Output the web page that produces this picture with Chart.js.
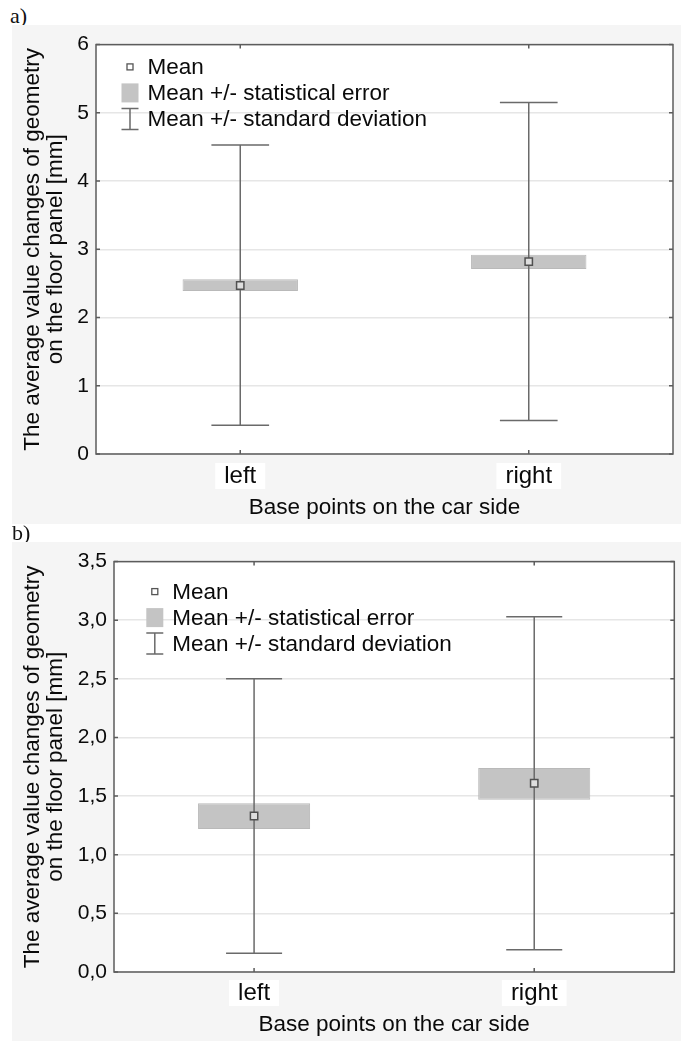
<!DOCTYPE html>
<html>
<head>
<meta charset="utf-8">
<script src="https://cdn.jsdelivr.net/npm/chart.js@4.4.1/dist/chart.umd.min.js"></script>
<style>
  body { margin: 0; background: #fff; width: 681px; height: 1041px; position: relative; overflow: hidden; }
  .tag { position: absolute; font-family: "Liberation Serif", "Times New Roman", serif; font-size: 22px; line-height: 22px; color: #111; }
  .panel { position: absolute; left: 12px; width: 669px; height: 499px; background: #f5f5f5; }
</style>
</head>
<body>
<div class="tag" style="left:10px; top:5px;">a)</div>
<div class="panel" style="top:25px;"><canvas id="chartA"></canvas></div>
<div class="tag" style="left:12px; top:522px;">b)</div>
<div class="panel" style="top:542px;"><canvas id="chartB"></canvas></div>

<script>
const categories = ['left', 'right'];
const xTitle = 'Base points on the car side';
const yTitle = ['The average value changes of geometry', 'on the floor panel [mm]'];
const legendLabels = ['Mean', 'Mean +/- statistical error', 'Mean +/- standard deviation'];

// a)
const meanA = [2.47, 2.82];
const seLowA = [2.39, 2.71];
const seHighA = [2.56, 2.92];
const sdLowA = [0.42, 0.49];
const sdHighA = [4.53, 5.15];
const yTicksA = ['0', '1', '2', '3', '4', '5', '6'];

// b)
const meanB = [1.33, 1.61];
const seLowB = [1.22, 1.47];
const seHighB = [1.44, 1.74];
const sdLowB = [0.16, 0.19];
const sdHighB = [2.50, 3.03];
const yTicksB = ['0,0', '0,5', '1,0', '1,5', '2,0', '2,5', '3,0', '3,5'];

const FONT = '"Liberation Sans", Arial, sans-serif';
const TEXT = '#0a0a0a';
const FRAME = '#5c5c5c';
const WHISKER = '#6a6a6a';
const BOX = '#c4c4c4';

// white plot background
const plotBg = {
  id: 'plotBg',
  beforeDraw(chart) {
    const {ctx, chartArea: a} = chart;
    ctx.save();
    ctx.fillStyle = '#fff';
    ctx.fillRect(a.left, a.top, a.width, a.height);
    ctx.restore();
  }
};

// standard deviation whiskers, drawn over the boxes and under the mean markers
const whiskers = {
  id: 'whiskers',
  beforeDatasetDraw(chart, args, opts) {
    if (args.index !== 0) return;
    const {ctx, scales: {x, y}} = chart;
    const half = x.width / categories.length * 0.1;
    ctx.save();
    ctx.strokeStyle = WHISKER;
    ctx.lineWidth = 1.5;
    opts.low.forEach((lo, i) => {
      const px = x.getPixelForValue(i);
      const yLo = y.getPixelForValue(lo);
      const yHi = y.getPixelForValue(opts.high[i]);
      ctx.beginPath();
      ctx.moveTo(px, yLo); ctx.lineTo(px, yHi);
      ctx.moveTo(px - half, yLo); ctx.lineTo(px + half, yLo);
      ctx.moveTo(px - half, yHi); ctx.lineTo(px + half, yHi);
      ctx.stroke();
    });
    ctx.restore();
  }
};

// frame, inward ticks and the legend inside the plot
const frame = {
  id: 'frame',
  afterDraw(chart, args, opts) {
    const {ctx, chartArea: a, scales: {x, y}} = chart;
    ctx.save();
    ctx.strokeStyle = FRAME;
    ctx.lineWidth = 1.5;
    ctx.strokeRect(a.left, a.top, a.width, a.height);
    ctx.beginPath();
    y.ticks.forEach((t, i) => {
      const py = y.getPixelForTick(i);
      ctx.moveTo(a.left, py); ctx.lineTo(a.left + 4, py);
      ctx.moveTo(a.right, py); ctx.lineTo(a.right - 4, py);
    });
    categories.forEach((c, i) => {
      const px = x.getPixelForValue(i);
      ctx.moveTo(px, a.bottom); ctx.lineTo(px, a.bottom - 4);
      ctx.moveTo(px, a.top); ctx.lineTo(px, a.top + 4);
    });
    ctx.stroke();

    // legend
    const sx = a.left + opts.symX;
    const tx = a.left + opts.symX + 17.5;
    const rows = legendLabels.map((l, i) => a.top + opts.rowY + i * 26);
    ctx.fillStyle = '#fff';
    ctx.strokeStyle = '#555';
    ctx.lineWidth = 1.3;
    ctx.fillRect(sx - 3, rows[0] - 3, 6, 6);
    ctx.strokeRect(sx - 3, rows[0] - 3, 6, 6);
    ctx.fillStyle = BOX;
    ctx.fillRect(sx - 8.5, rows[1] - 9.5, 17, 19);
    ctx.strokeStyle = WHISKER;
    ctx.lineWidth = 1.5;
    ctx.beginPath();
    ctx.moveTo(sx, rows[2] - 10.5); ctx.lineTo(sx, rows[2] + 10.5);
    ctx.moveTo(sx - 8.5, rows[2] - 10.5); ctx.lineTo(sx + 8.5, rows[2] - 10.5);
    ctx.moveTo(sx - 8.5, rows[2] + 10.5); ctx.lineTo(sx + 8.5, rows[2] + 10.5);
    ctx.stroke();
    ctx.fillStyle = TEXT;
    ctx.font = '22.5px ' + FONT;
    ctx.textBaseline = 'middle';
    ctx.textAlign = 'left';
    legendLabels.forEach((l, i) => ctx.fillText(l, tx, rows[i] + 1));
    ctx.restore();
  }
};

function makeChart(id, mean, seLow, seHigh, sdLow, sdHigh, yTicks, yMax, yStep, lay) {
  return new Chart(document.getElementById(id), {
    type: 'bar',
    data: {
      labels: categories,
      datasets: [{
        type: 'line',
        label: legendLabels[0],
        data: mean,
        showLine: false,
        pointStyle: 'rect',
        pointRadius: 5.2,
        pointBorderWidth: 1.5,
        pointBorderColor: '#505050',
        pointBackgroundColor: '#dedede'
      }, {
        label: legendLabels[1],
        data: seLow.map((v, i) => [v, seHigh[i]]),
        backgroundColor: BOX,
        borderColor: '#b9b9b9',
        borderWidth: 1,
        borderSkipped: false,
        barPercentage: 0.4,
        categoryPercentage: 1
      }]
    },
    options: {
      responsive: true,
      maintainAspectRatio: false,
      animation: false,
      layout: { padding: { left: 0, right: lay.right, top: lay.top, bottom: 0 } },
      plugins: {
        legend: { display: false },
        tooltip: { enabled: false },
        whiskers: { low: sdLow, high: sdHigh },
        frame: { symX: lay.symX, rowY: lay.rowY }
      },
      scales: {
        x: {
          offset: true,
          grid: { display: false, drawTicks: false },
          border: { display: false },
          ticks: {
            color: TEXT,
            font: { family: FONT, size: 24, lineHeight: 1.0 },
            padding: lay.xPad,
            showLabelBackdrop: true,
            backdropColor: '#fff',
            backdropPadding: { top: 1, bottom: 1, left: 9, right: 9 }
          },
          title: {
            display: true, text: xTitle, color: TEXT,
            font: { family: FONT, size: 22.5 },
            padding: { top: 0, bottom: 3 }
          },
          afterFit(s) { s.height = lay.xH; }
        },
        y: {
          min: 0, max: yMax,
          grid: { color: '#e6e6e6', lineWidth: 1.5, drawTicks: false },
          border: { display: false },
          ticks: {
            stepSize: yStep,
            color: TEXT,
            font: { family: FONT, size: 21 },
            padding: 7,
            callback: (v, i) => yTicks[i]
          },
          title: {
            display: true, text: yTitle, color: TEXT,
            font: { family: FONT, size: 22.5, lineHeight: 1.0 },
            padding: { top: 10, bottom: 0 }
          },
          afterFit(s) { s.width = lay.yW; }
        }
      }
    },
    plugins: [plotBg, whiskers, frame]
  });
}

makeChart('chartA', meanA, seLowA, seHighA, sdLowA, sdHighA, yTicksA, 6, 1,
  { right: 8, top: 17, xH: 70, yW: 84, xPad: 10, symX: 34, rowY: 22.3 });
makeChart('chartB', meanB, seLowB, seHighB, sdLowB, sdHighB, yTicksB, 3.5, 0.5,
  { right: 6, top: 18, xH: 69, yW: 102, xPad: 9, symX: 40.8, rowY: 30 });
</script>
</body>
</html>
